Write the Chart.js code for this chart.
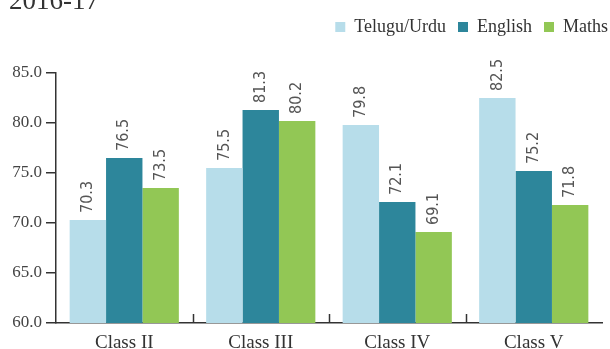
<!DOCTYPE html>
<html lang="en">
<head>
  <meta charset="UTF-8">
  <title>2016-17</title>
  <script src="https://cdn.jsdelivr.net/npm/chart.js"></script>
  <style>
    body {
      margin: 0;
      background: #fff;
      overflow: hidden;
    }
    .wrap {
      position: relative;
      width: 610px;
      height: 349px;
    }
    .year {
      position: absolute;
      left: 9px;
      top: -15px;
      font-family: 'Liberation Serif', serif;
      font-size: 27px;
      color: #333;
    }
  </style>
</head>
<body>
  <div class="wrap">
    <div class="year">2016-17</div>
    <canvas id="grafico" width="610" height="349"></canvas>
  </div>

  <script>
    const clases = ['Class II', 'Class III', 'Class IV', 'Class V'];
    const telugu = [70.3, 75.5, 79.8, 82.5];
    const english = [76.5, 81.3, 72.1, 75.2];
    const maths = [73.5, 80.2, 69.1, 71.8];
    const yTicks = [60, 65, 70, 75, 80, 85];

    const serif = "'Liberation Serif', serif";

    // etiquetas de valor giradas encima de cada barra
    const valores = {
      id: 'valores',
      afterDatasetsDraw(chart) {
        const ctx = chart.ctx;
        ctx.save();
        ctx.fillStyle = '#555';
        ctx.font = "16px 'DejaVu Sans Condensed', 'DejaVu Sans', sans-serif";
        ctx.textAlign = 'left';
        ctx.textBaseline = 'middle';
        chart.data.datasets.forEach((ds, i) => {
          chart.getDatasetMeta(i).data.forEach((bar, j) => {
            ctx.save();
            ctx.translate(bar.x, bar.y - 7);
            ctx.rotate(-Math.PI / 2);
            ctx.fillText(ds.data[j].toFixed(1), 0, 0);
            ctx.restore();
          });
        });
        ctx.restore();
      }
    };

    // marcas cortas hacia arriba entre categorías
    const separadores = {
      id: 'separadores',
      afterDraw(chart) {
        const x = chart.scales.x;
        const ctx = chart.ctx;
        const paso = x.getPixelForValue(1) - x.getPixelForValue(0);
        ctx.save();
        ctx.strokeStyle = '#333';
        ctx.lineWidth = 1.5;
        for (let i = 0; i < clases.length - 1; i++) {
          const px = Math.round(x.getPixelForValue(i) + paso / 2) + 0.5;
          ctx.beginPath();
          ctx.moveTo(px, x.top);
          ctx.lineTo(px, x.top - 9);
          ctx.stroke();
        }
        ctx.restore();
      }
    };

    const alturaLeyenda = {
      id: 'alturaLeyenda',
      beforeInit(chart) {
        const fit = chart.legend.fit;
        chart.legend.fit = function () {
          fit.bind(chart.legend)();
          this.height = 67;
        };
      }
    };

    new Chart(document.getElementById('grafico'), {
      type: 'bar',
      data: {
        labels: clases,
        datasets: [
          { label: 'Telugu/Urdu', data: telugu, backgroundColor: '#B7DDEA' },
          { label: 'English', data: english, backgroundColor: '#2D869B' },
          { label: 'Maths', data: maths, backgroundColor: '#92C755' }
        ]
      },
      options: {
        responsive: false,
        animation: false,
        categoryPercentage: 0.8,
        barPercentage: 1.0,
        layout: { padding: { top: 6, right: -10, left: 0, bottom: 0 } },
        plugins: {
          legend: {
            position: 'top',
            align: 'end',
            labels: {
              boxWidth: 10,
              boxHeight: 10,
              padding: 12,
              color: '#333',
              font: { family: serif, size: 18 }
            }
          },
          tooltip: { enabled: false }
        },
        scales: {
          x: {
            grid: { display: false },
            border: { color: '#333', width: 1.5 },
            ticks: { color: '#333', font: { family: serif, size: 19 }, padding: 1 },
            afterFit(scale) { scale.height = 26; }
          },
          y: {
            min: 60,
            max: 85,
            afterBuildTicks(scale) { scale.ticks = yTicks.map(v => ({ value: v })); },
            grid: { drawOnChartArea: false, tickLength: 10, color: '#333', lineWidth: 1.5 },
            border: { color: '#333', width: 1.5 },
            ticks: {
              color: '#444',
              font: { family: serif, size: 17 },
              padding: 4,
              callback: v => v.toFixed(1)
            },
            afterFit(scale) { scale.width = 56; }
          },
          // margen derecho vacío
          margen: {
            position: 'right',
            min: 60,
            max: 85,
            grid: { display: false },
            border: { display: false },
            ticks: { display: false },
            afterFit(scale) { scale.width = 18; }
          }
        }
      },
      plugins: [valores, separadores, alturaLeyenda]
    });
  </script>
</body>
</html>
